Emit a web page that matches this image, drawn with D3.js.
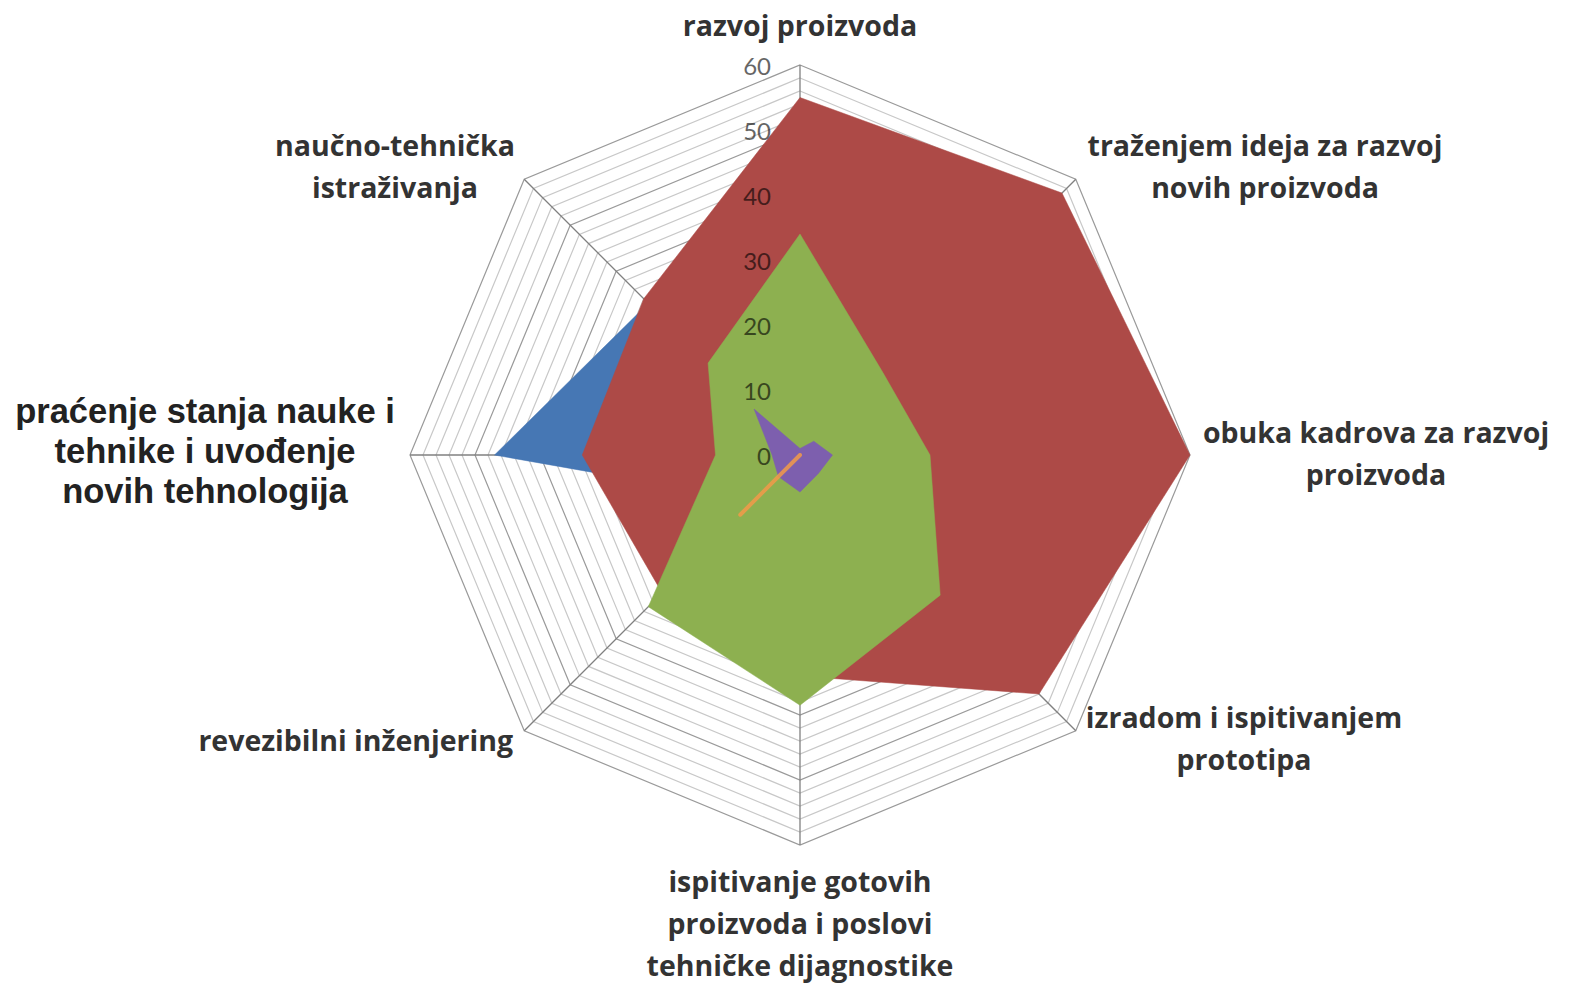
<!DOCTYPE html>
<html>
<head>
<meta charset="utf-8">
<script src="https://cdn.jsdelivr.net/npm/d3@7"></script>
<style>
  body { margin: 0; background: #fff; }
  svg { display: block; }
</style>
</head>
<body>
<div id="chart"></div>
<script>
// categories, clockwise from the top
const categories = [
  ['razvoj proizvoda'],
  ['traženjem ideja za razvoj', 'novih proizvoda'],
  ['obuka kadrova za razvoj', 'proizvoda'],
  ['izradom i ispitivanjem', 'prototipa'],
  ['ispitivanje gotovih', 'proizvoda i poslovi', 'tehničke dijagnostike'],
  ['revezibilni inženjering'],
  ['praćenje stanja nauke i', 'tehnike i uvođenje', 'novih tehnologija'],
  ['naučno-tehnička', 'istraživanja']
];

// series values
const seriesBlue   = [20, 20, 20, 20, 20, 10, 47, 33];
const seriesRed    = [55, 57, 60, 52, 34, 30, 33.5, 34];
const seriesGreen  = [34, 18, 20, 30.5, 38.5, 33, 13, 20];
const seriesPurple = [1, 3, 5, 4, 5.7, 4.7, 4.3, 10];
const seriesOrange = [0, 0, 0, 0, 0, 13, 0, 0];

const tickValues = [0, 10, 20, 30, 40, 50, 60];

//--- chart dimensions ---------------------------------------------------------
const width = 1575;
const height = 987;
const cx = 800;
const cy = 455;
const maxVal = 60;

const mySVG = d3.select('#chart')
  .append('svg')
    .attr('width', width)
    .attr('height', height);

const r = d3.scaleLinear()
  .domain([0, maxVal])
  .range([0, 390]);

const angle = d3.scaleLinear()
  .domain([0, categories.length])
  .range([0, 2 * Math.PI]);

function pt(i, v) {
  const a = angle(i);
  return [cx + r(v) * Math.sin(a), cy - r(v) * Math.cos(a)];
}

const g = mySVG.append('g');

//--- grid (minor every 2, major every 10) ------------------------------------
const rings = d3.range(2, maxVal + 1, 2);
g.selectAll('.ring')
  .data(rings)
  .join('polygon')
    .attr('class', 'ring')
    .attr('points', v => categories.map((c, i) => pt(i, v).join(',')).join(' '))
    .attr('fill', 'none')
    .attr('stroke', v => v % 10 === 0 ? '#9a9a9a' : '#c8c8c8')
    .attr('stroke-width', 1.2);

g.selectAll('.spoke')
  .data(categories)
  .join('line')
    .attr('class', 'spoke')
    .attr('x1', cx)
    .attr('y1', cy)
    .attr('x2', (d, i) => pt(i, maxVal)[0])
    .attr('y2', (d, i) => pt(i, maxVal)[1])
    .attr('stroke', '#808080')
    .attr('stroke-width', 1.3);

//--- series ------------------------------------------------------------------
const series = [
  { values: seriesBlue,   color: '#4677b4' },
  { values: seriesRed,    color: '#ad4a47' },
  { values: seriesGreen,  color: '#8db050' },
  { values: seriesPurple, color: '#7d5fae' },
  { values: seriesOrange, color: '#f29a4a' }
];

const line = d3.line().curve(d3.curveLinearClosed);

g.selectAll('.series')
  .data(series)
  .join('path')
    .attr('class', 'series')
    .attr('d', s => line(s.values.map((v, i) => pt(i, v))))
    .attr('fill', s => s.color)
    .attr('stroke', s => s.color)
    .attr('stroke-width', (s, i) => i === 4 ? 4 : 0.5)
    .attr('stroke-linejoin', 'round')
    .attr('opacity', (s, i) => i === 4 ? 0.85 : 1);

//--- value labels --------------------------------------------------------------
g.selectAll('.tick')
  .data(tickValues)
  .join('text')
    .attr('class', 'tick')
    .attr('x', 771)
    .attr('y', v => cy - r(v))
    .attr('text-anchor', 'end')
    .attr('dominant-baseline', 'central')
    .style('font-family', 'Lato, "Open Sans", sans-serif')
    .style('font-size', '24px')
    .style('fill', '#000')
    .style('opacity', 0.6)
    .text(v => v);

//--- category labels ---------------------------------------------------------
const labelPos = [
  { x: 800,  y: 25,  anchor: 'middle' },
  { x: 1265, y: 145, anchor: 'middle' },
  { x: 1376, y: 432, anchor: 'middle' },
  { x: 1244, y: 717, anchor: 'middle' },
  { x: 800,  y: 881, anchor: 'middle' },
  { x: 513,  y: 740, anchor: 'end' },
  { x: 205,  y: 411, anchor: 'middle', big: true },
  { x: 395,  y: 145, anchor: 'middle' }
];

const labels = g.selectAll('.cat')
  .data(categories)
  .join('text')
    .attr('class', 'cat')
    .attr('text-anchor', (d, i) => labelPos[i].anchor)
    .style('font-family', (d, i) => labelPos[i].big ? '"Liberation Sans", Arial, sans-serif' : '"Open Sans", Lato, sans-serif')
    .style('font-weight', 'bold')
    .style('font-size', (d, i) => labelPos[i].big ? '34.5px' : '28.5px')
    .style('fill', (d, i) => labelPos[i].big ? '#222' : '#333');

labels.selectAll('tspan')
  .data((d, i) => d.map((t, k) => ({ t, k, i })))
  .join('tspan')
    .attr('x', d => labelPos[d.i].x)
    .attr('y', d => labelPos[d.i].y + d.k * (labelPos[d.i].big ? 40 : 42))
    .attr('dominant-baseline', 'central')
    .text(d => d.t);
</script>
</body>
</html>
